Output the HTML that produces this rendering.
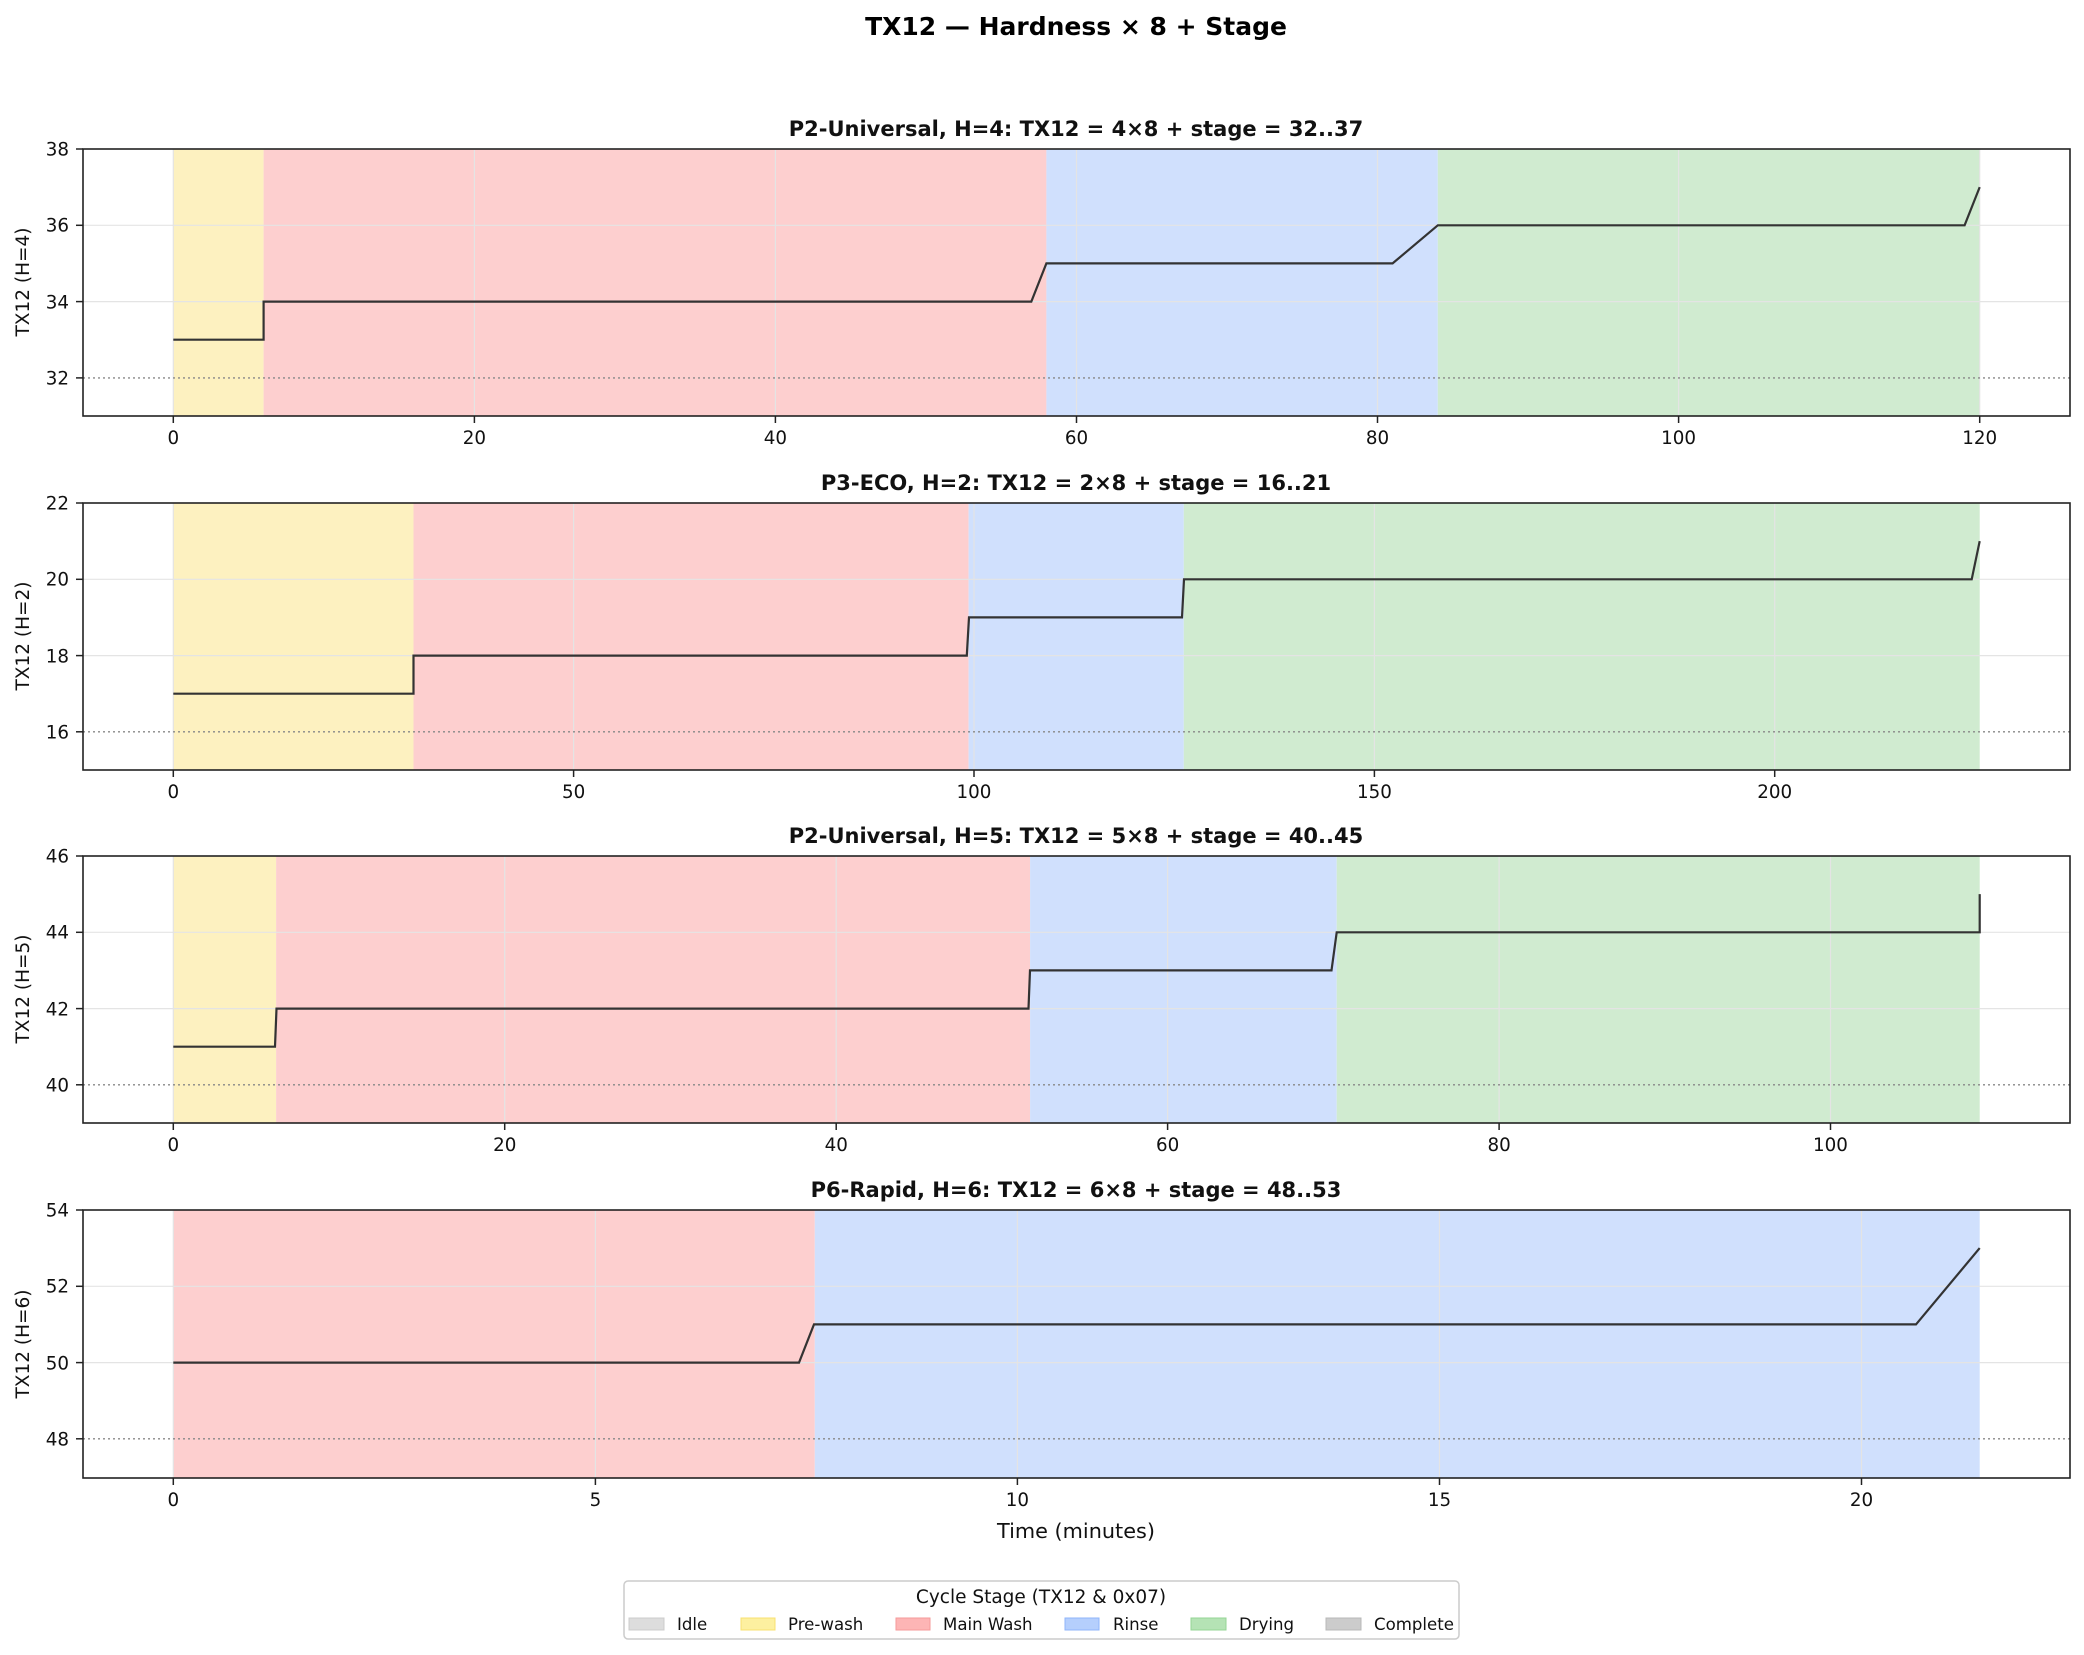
<!DOCTYPE html>
<html><head><meta charset="utf-8"><style>
body{margin:0;background:#fff}
svg{display:block;font-family:"DejaVu Sans","Liberation Sans",sans-serif}
.t{font-size:18.3px;fill:#111}
.st{font-size:21px;font-weight:bold;fill:#111}
.yl{font-size:18.5px;fill:#111}
.g{stroke:#e4e4e4;stroke-width:1.2}
.d{stroke:#888;stroke-width:1.4;stroke-dasharray:2,3}
.ln{fill:none;stroke:#333;stroke-width:2.2}
.fr{fill:none;stroke:#222;stroke-width:1.6}
.tk{stroke:#222;stroke-width:1.5}
</style></head><body>
<svg width="2084" height="1655" viewBox="0 0 2084 1655" xmlns="http://www.w3.org/2000/svg">
<rect width="2084" height="1655" fill="#fff"/>
<text x="1076" y="35" text-anchor="middle" style="font-size:25px;font-weight:bold">TX12 — Hardness × 8 + Stage</text>

<!-- Panel 1 -->
<g>
<rect x="173.3" y="149" width="90.3" height="267" fill="#fdf1c0"/>
<rect x="263.6" y="149" width="782.8" height="267" fill="#fdcfcf"/>
<rect x="1046.4" y="149" width="391.4" height="267" fill="#d0e0fd"/>
<rect x="1437.8" y="149" width="541.9" height="267" fill="#d0ebd0"/>
<g class="g"><line x1="83" x2="2070" y1="301.6" y2="301.6"/><line x1="83" x2="2070" y1="225.3" y2="225.3"/>
<line x1="173.3" x2="173.3" y1="149" y2="416"/><line x1="474.4" x2="474.4" y1="149" y2="416"/><line x1="775.4" x2="775.4" y1="149" y2="416"/><line x1="1076.5" x2="1076.5" y1="149" y2="416"/><line x1="1377.5" x2="1377.5" y1="149" y2="416"/><line x1="1678.6" x2="1678.6" y1="149" y2="416"/><line x1="1979.7" x2="1979.7" y1="149" y2="416"/></g>
<line class="d" x1="83" x2="2070" y1="377.9" y2="377.9"/>
<polyline class="ln" points="173.3,339.7 263.6,339.7 263.6,301.6 1031.3,301.6 1046.4,263.4 1392.6,263.4 1437.8,225.3 1964.6,225.3 1979.7,187.1"/>
<rect class="fr" x="83" y="149" width="1987" height="267"/>
<g class="tk"><line x1="76" x2="83" y1="377.9" y2="377.9"/><line x1="76" x2="83" y1="301.6" y2="301.6"/><line x1="76" x2="83" y1="225.3" y2="225.3"/><line x1="76" x2="83" y1="149" y2="149"/>
<line x1="173.3" x2="173.3" y1="416" y2="423"/><line x1="474.4" x2="474.4" y1="416" y2="423"/><line x1="775.4" x2="775.4" y1="416" y2="423"/><line x1="1076.5" x2="1076.5" y1="416" y2="423"/><line x1="1377.5" x2="1377.5" y1="416" y2="423"/><line x1="1678.6" x2="1678.6" y1="416" y2="423"/><line x1="1979.7" x2="1979.7" y1="416" y2="423"/></g>
<g class="t" text-anchor="end"><text x="69" y="384.5">32</text><text x="69" y="308.5">34</text><text x="69" y="231.5">36</text><text x="69" y="155.5">38</text></g>
<g class="t" text-anchor="middle"><text x="173.3" y="444">0</text><text x="474.4" y="444">20</text><text x="775.4" y="444">40</text><text x="1076.5" y="444">60</text><text x="1377.5" y="444">80</text><text x="1678.6" y="444">100</text><text x="1979.7" y="444">120</text></g>
<text class="st" x="1076" y="136" text-anchor="middle">P2-Universal, H=4: TX12 = 4×8 + stage = 32..37</text>
<text class="yl" transform="translate(29,282) rotate(-90)" text-anchor="middle">TX12 (H=4)</text>
</g>

<!-- Panel 2 -->
<g>
<rect x="173.3" y="503" width="240.2" height="267" fill="#fdf1c0"/>
<rect x="413.5" y="503" width="555.1" height="267" fill="#fdcfcf"/>
<rect x="968.6" y="503" width="215.2" height="267" fill="#d0e0fd"/>
<rect x="1183.8" y="503" width="795.9" height="267" fill="#d0ebd0"/>
<g class="g"><line x1="83" x2="2070" y1="655.6" y2="655.6"/><line x1="83" x2="2070" y1="579.3" y2="579.3"/>
<line x1="173.3" x2="173.3" y1="503" y2="770"/><line x1="573.6" x2="573.6" y1="503" y2="770"/><line x1="974" x2="974" y1="503" y2="770"/><line x1="1374.4" x2="1374.4" y1="503" y2="770"/><line x1="1774.7" x2="1774.7" y1="503" y2="770"/></g>
<line class="d" x1="83" x2="2070" y1="731.8" y2="731.8"/>
<polyline class="ln" points="173.3,693.7 413.5,693.7 413.5,655.6 966.8,655.6 969,617.4 1182,617.4 1184,579.3 1971.7,579.3 1979.7,541.1"/>
<rect class="fr" x="83" y="503" width="1987" height="267"/>
<g class="tk"><line x1="76" x2="83" y1="731.8" y2="731.8"/><line x1="76" x2="83" y1="655.6" y2="655.6"/><line x1="76" x2="83" y1="579.3" y2="579.3"/><line x1="76" x2="83" y1="503" y2="503"/>
<line x1="173.3" x2="173.3" y1="770" y2="777"/><line x1="573.6" x2="573.6" y1="770" y2="777"/><line x1="974" x2="974" y1="770" y2="777"/><line x1="1374.4" x2="1374.4" y1="770" y2="777"/><line x1="1774.7" x2="1774.7" y1="770" y2="777"/></g>
<g class="t" text-anchor="end"><text x="69" y="738.5">16</text><text x="69" y="662.5">18</text><text x="69" y="585.5">20</text><text x="69" y="509.5">22</text></g>
<g class="t" text-anchor="middle"><text x="173.3" y="798">0</text><text x="573.6" y="798">50</text><text x="974" y="798">100</text><text x="1374.4" y="798">150</text><text x="1774.7" y="798">200</text></g>
<text class="st" x="1076" y="490" text-anchor="middle">P3-ECO, H=2: TX12 = 2×8 + stage = 16..21</text>
<text class="yl" transform="translate(29,636) rotate(-90)" text-anchor="middle">TX12 (H=2)</text>
</g>

<!-- Panel 3 -->
<g>
<rect x="173.3" y="856" width="102.8" height="267" fill="#fdf1c0"/>
<rect x="276.1" y="856" width="754" height="267" fill="#fdcfcf"/>
<rect x="1030.1" y="856" width="306.6" height="267" fill="#d0e0fd"/>
<rect x="1336.7" y="856" width="643" height="267" fill="#d0ebd0"/>
<g class="g"><line x1="83" x2="2070" y1="1008.6" y2="1008.6"/><line x1="83" x2="2070" y1="932.3" y2="932.3"/>
<line x1="173.3" x2="173.3" y1="856" y2="1123"/><line x1="504.7" x2="504.7" y1="856" y2="1123"/><line x1="836.2" x2="836.2" y1="856" y2="1123"/><line x1="1167.6" x2="1167.6" y1="856" y2="1123"/><line x1="1499.1" x2="1499.1" y1="856" y2="1123"/><line x1="1830.5" x2="1830.5" y1="856" y2="1123"/></g>
<line class="d" x1="83" x2="2070" y1="1084.8" y2="1084.8"/>
<polyline class="ln" points="173.3,1046.7 275,1046.7 276.5,1008.6 1028.5,1008.6 1030,970.4 1331.5,970.4 1336.7,932.3 1979.7,932.3 1979.7,894.1"/>
<rect class="fr" x="83" y="856" width="1987" height="267"/>
<g class="tk"><line x1="76" x2="83" y1="1084.8" y2="1084.8"/><line x1="76" x2="83" y1="1008.6" y2="1008.6"/><line x1="76" x2="83" y1="932.3" y2="932.3"/><line x1="76" x2="83" y1="856" y2="856"/>
<line x1="173.3" x2="173.3" y1="1123" y2="1130"/><line x1="504.7" x2="504.7" y1="1123" y2="1130"/><line x1="836.2" x2="836.2" y1="1123" y2="1130"/><line x1="1167.6" x2="1167.6" y1="1123" y2="1130"/><line x1="1499.1" x2="1499.1" y1="1123" y2="1130"/><line x1="1830.5" x2="1830.5" y1="1123" y2="1130"/></g>
<g class="t" text-anchor="end"><text x="69" y="1091.5">40</text><text x="69" y="1015.5">42</text><text x="69" y="938.5">44</text><text x="69" y="862.5">46</text></g>
<g class="t" text-anchor="middle"><text x="173.3" y="1151">0</text><text x="504.7" y="1151">20</text><text x="836.2" y="1151">40</text><text x="1167.6" y="1151">60</text><text x="1499.1" y="1151">80</text><text x="1830.5" y="1151">100</text></g>
<text class="st" x="1076" y="843" text-anchor="middle">P2-Universal, H=5: TX12 = 5×8 + stage = 40..45</text>
<text class="yl" transform="translate(29,989) rotate(-90)" text-anchor="middle">TX12 (H=5)</text>
</g>

<!-- Panel 4 -->
<g>
<rect x="173.3" y="1210" width="641.5" height="268" fill="#fdcfcf"/>
<rect x="814.8" y="1210" width="1164.9" height="268" fill="#d0e0fd"/>
<g class="g"><line x1="83" x2="2070" y1="1362.6" y2="1362.6"/><line x1="83" x2="2070" y1="1286.3" y2="1286.3"/>
<line x1="173.3" x2="173.3" y1="1210" y2="1478"/><line x1="595.4" x2="595.4" y1="1210" y2="1478"/><line x1="1017.4" x2="1017.4" y1="1210" y2="1478"/><line x1="1439.5" x2="1439.5" y1="1210" y2="1478"/><line x1="1861.5" x2="1861.5" y1="1210" y2="1478"/></g>
<line class="d" x1="83" x2="2070" y1="1438.8" y2="1438.8"/>
<polyline class="ln" points="173.3,1362.6 799,1362.6 814,1324.4 1916,1324.4 1979.7,1248.1"/>
<rect class="fr" x="83" y="1210" width="1987" height="268"/>
<g class="tk"><line x1="76" x2="83" y1="1438.8" y2="1438.8"/><line x1="76" x2="83" y1="1362.6" y2="1362.6"/><line x1="76" x2="83" y1="1286.3" y2="1286.3"/><line x1="76" x2="83" y1="1210" y2="1210"/>
<line x1="173.3" x2="173.3" y1="1478" y2="1485"/><line x1="595.4" x2="595.4" y1="1478" y2="1485"/><line x1="1017.4" x2="1017.4" y1="1478" y2="1485"/><line x1="1439.5" x2="1439.5" y1="1478" y2="1485"/><line x1="1861.5" x2="1861.5" y1="1478" y2="1485"/></g>
<g class="t" text-anchor="end"><text x="69" y="1445.5">48</text><text x="69" y="1369.5">50</text><text x="69" y="1292.5">52</text><text x="69" y="1216.5">54</text></g>
<g class="t" text-anchor="middle"><text x="173.3" y="1506">0</text><text x="595.4" y="1506">5</text><text x="1017.4" y="1506">10</text><text x="1439.5" y="1506">15</text><text x="1861.5" y="1506">20</text></g>
<text class="st" x="1076" y="1197" text-anchor="middle">P6-Rapid, H=6: TX12 = 6×8 + stage = 48..53</text>
<text class="yl" transform="translate(29,1344) rotate(-90)" text-anchor="middle">TX12 (H=6)</text>
</g>

<text x="1076" y="1538" text-anchor="middle" style="font-size:20.8px;fill:#111">Time (minutes)</text>

<!-- Legend -->
<rect x="624" y="1581" width="835" height="58" rx="4" fill="#fff" stroke="#ccc" stroke-width="1.5"/>
<text x="1041" y="1603" text-anchor="middle" style="font-size:18.5px;fill:#111">Cycle Stage (TX12 &amp; 0x07)</text>
<g style="font-size:16.6px;fill:#111">
<rect x="629" y="1618" width="35" height="12" fill="#dddddd" stroke="#cccccc"/><text x="677" y="1630">Idle</text>
<rect x="741" y="1618" width="34" height="12" fill="#fdf0a0" stroke="#f8e070"/><text x="788" y="1630">Pre-wash</text>
<rect x="896" y="1618" width="34" height="12" fill="#fdb5b5" stroke="#f59a9a"/><text x="943" y="1630">Main Wash</text>
<rect x="1065" y="1618" width="34" height="12" fill="#b5cffd" stroke="#90b5fa"/><text x="1113" y="1630">Rinse</text>
<rect x="1191" y="1618" width="35" height="12" fill="#b5e3b5" stroke="#95d595"/><text x="1239" y="1630">Drying</text>
<rect x="1326" y="1618" width="35" height="12" fill="#cccccc" stroke="#b8b8b8"/><text x="1374" y="1630">Complete</text>
</g>
</svg>
</body></html>
